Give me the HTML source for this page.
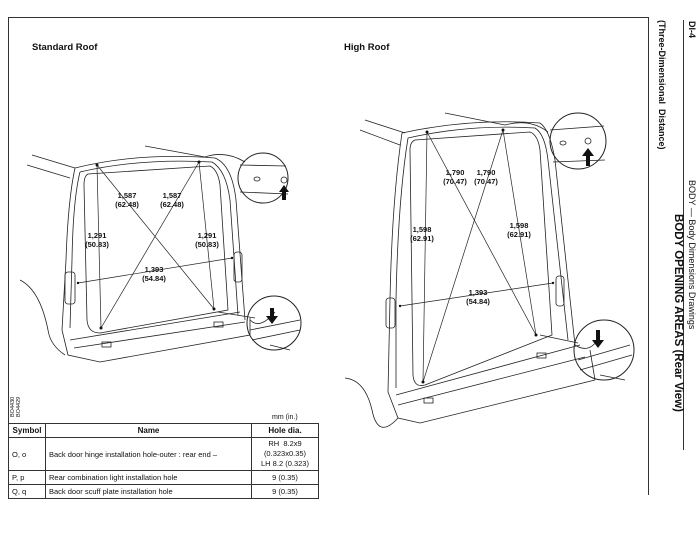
<!DOCTYPE html>
<html><head><meta charset="utf-8"><style>
body{margin:0;width:700px;height:536px;background:#fff;position:relative;overflow:hidden;font-family:"Liberation Sans",Arial,sans-serif;color:#111}
.frame{position:absolute;left:8px;top:17px;width:641px;height:478px;border:1px solid #333;box-sizing:border-box;border-bottom:none}
.rot{position:absolute;transform-origin:0 0;transform:rotate(90deg);white-space:nowrap}
table{position:absolute;left:8px;top:423px;width:311px;border-collapse:collapse;font-size:7.5px}
td,th{border:1px solid #333;padding:1px 3px;height:11px}
th{font-weight:bold;font-size:8px}
</style></head><body>
<div class="frame"></div>
<div style="position:absolute;left:683px;top:20px;width:1px;height:430px;background:#333"></div>
<div style="position:absolute;left:32px;top:42px;font-size:9.5px;font-weight:bold">Standard Roof</div>
<div style="position:absolute;left:344px;top:42px;font-size:9.5px;font-weight:bold">High Roof</div>
<div class="rot" style="left:667px;top:20px;font-size:9px;font-weight:bold">(Three-Dimensional&nbsp; Distance)</div>
<div class="rot" style="left:697px;top:21px;font-size:9px;font-weight:bold">DI-4</div>
<div class="rot" style="left:697px;top:180px;font-size:9px">BODY — Body Dimensions Drawings</div>
<div class="rot" style="left:684px;top:214px;font-size:11.5px;font-weight:bold">BODY OPENING AREAS (Rear View)</div>
<div style="position:absolute;left:5px;top:400px;font-size:5.5px;transform:rotate(-90deg);transform-origin:center;line-height:6px;width:22px">BO4430<br>BO4429</div>
<div style="position:absolute;left:272px;top:414px;font-size:7px">mm (in.)</div>
<table>
<tr><th style="width:30px">Symbol</th><th>Name</th><th style="width:60px">Hole dia.</th></tr>
<tr><td>O, o</td><td>Back door hinge installation hole-outer : rear end –</td><td style="text-align:center;line-height:10px">RH&nbsp; 8.2x9<br>(0.323x0.35)<br>LH 8.2 (0.323)</td></tr>
<tr><td>P, p</td><td>Rear combination light installation hole</td><td style="text-align:center">9 (0.35)</td></tr>
<tr><td>Q, q</td><td>Back door scuff plate installation hole</td><td style="text-align:center">9 (0.35)</td></tr>
</table>
<svg width="700" height="536" style="position:absolute;left:0;top:0" fill="none" stroke="#222" stroke-width="0.8" font-family="Liberation Sans,Arial,sans-serif">
<g>
<path d="M32 155 L75 168 M27 165 L70 178 M145 146 L205 157"/>
<path d="M75 168 Q140 152 215 158 Q232 165 236 200 L245 320"/>
<path d="M80 172 Q140 158 212 162 Q226 170 230 200 L238 315"/>
<path d="M75 168 Q68 200 66 260 L62 330"/>
<path d="M80 172 Q73 200 72 260 L70 328"/>
<path d="M88 174 L210 166 Q218 170 220 185 L228 310 L100 333 Q88 333 87 320 L84 185 Q84 176 88 174Z"/>
<path d="M62 330 L68 355 L100 362 L250 335 L250 318"/>
<path d="M70 340 L240 312 M74 348 L245 322"/>
<path d="M20 280 Q40 290 48 330 Q50 345 65 355"/>
<rect x="65" y="272" width="10" height="32" rx="3"/><rect x="234" y="252" width="8" height="30" rx="3"/>
<rect x="102" y="342" width="9" height="5"/><rect x="214" y="322" width="9" height="5"/>
<path stroke-width="0.7" d="M97 165 L214 309 M199 162 L101 328 M97 165 L101 328 M199 162 L214 309 M78 283 L232 258"/>
<g fill="#111" stroke="none"><circle cx="97" cy="165" r="1.5"/><circle cx="199" cy="162" r="1.5"/><circle cx="101" cy="328" r="1.5"/><circle cx="214" cy="309" r="1.5"/><circle cx="78" cy="283" r="1.2"/><circle cx="232" cy="258" r="1.2"/></g>
<circle cx="263" cy="178" r="25" stroke-width="1"/>
<path d="M205 157 Q225 150 245 162 M240 165 L286 166 M240 192 L288 194"/>
<ellipse cx="257" cy="179" rx="3" ry="2"/><circle cx="284" cy="180" r="3"/>
<path fill="#111" stroke="none" d="M282 200 L282 192 L279 192 L284 185 L289 192 L286 192 L286 200Z"/>
<circle cx="274" cy="323" r="27" stroke-width="1"/>
<path d="M218 312 L255 318 M250 320 Q260 330 275 312 M250 330 L300 320 M252 340 L300 330 M270 345 L290 350"/>
<path fill="#111" stroke="none" d="M270 308 L270 316 L266 316 L272 324 L278 316 L274 316 L274 308Z"/>
<g fill="#111" stroke="none" font-size="7.5" font-weight="bold" text-anchor="middle">
<text x="127" y="198">1,587</text><text x="127" y="207">(62.48)</text>
<text x="172" y="198">1,587</text><text x="172" y="207">(62.48)</text>
<text x="97" y="238">1,291</text><text x="97" y="247">(50.83)</text>
<text x="207" y="238">1,291</text><text x="207" y="247">(50.83)</text>
<text x="154" y="272">1,393</text><text x="154" y="281">(54.84)</text>
</g>
</g>
<g>
<path d="M365 120 L405 133 M360 130 L400 145 M445 113 L505 125"/>
<path d="M402 133 Q470 118 540 123 Q550 130 555 160 L575 345"/>
<path d="M408 138 Q470 124 535 128 Q545 134 548 160 L568 340"/>
<path d="M402 133 Q392 200 390 300 L388 392"/>
<path d="M408 138 Q398 200 396 300 L396 388"/>
<path d="M415 140 L530 132 Q538 135 540 150 L552 335 L425 385 Q414 388 413 375 L410 150 Q410 142 415 140Z"/>
<path d="M388 392 L398 418 L420 423 L595 380 L590 350"/>
<path d="M396 395 L580 345 M398 405 L585 357"/>
<path d="M345 378 Q365 380 372 410 Q378 440 398 418"/>
<rect x="386" y="298" width="9" height="30" rx="3"/><rect x="556" y="276" width="8" height="30" rx="3"/>
<rect x="424" y="398" width="9" height="5"/><rect x="537" y="353" width="9" height="5"/>
<path stroke-width="0.7" d="M427 132 L536 335 M503 130 L423 382 M427 132 L423 382 M503 130 L536 335 M400 306 L553 283"/>
<g fill="#111" stroke="none"><circle cx="427" cy="132" r="1.5"/><circle cx="503" cy="130" r="1.5"/><circle cx="423" cy="382" r="1.5"/><circle cx="536" cy="335" r="1.5"/><circle cx="400" cy="306" r="1.2"/><circle cx="553" cy="283" r="1.2"/></g>
<circle cx="578" cy="141" r="28" stroke-width="1"/>
<path d="M505 125 Q530 118 548 132 M550 130 L604 126 M553 162 L605 160"/>
<ellipse cx="563" cy="143" rx="3" ry="2"/><circle cx="588" cy="141" r="3"/>
<path fill="#111" stroke="none" d="M586 166 L586 156 L582 156 L588 148 L594 156 L590 156 L590 166Z"/>
<circle cx="604" cy="350" r="30" stroke-width="1"/>
<path d="M540 335 L578 343 M575 345 Q590 355 600 336 M578 360 L630 345 M580 370 L632 355 M600 375 L625 380"/>
<path fill="#111" stroke="none" d="M596 330 L596 340 L592 340 L598 348 L604 340 L600 340 L600 330Z"/>
<g fill="#111" stroke="none" font-size="7.5" font-weight="bold" text-anchor="middle">
<text x="455" y="175">1,790</text><text x="455" y="184">(70.47)</text>
<text x="486" y="175">1,790</text><text x="486" y="184">(70.47)</text>
<text x="422" y="232">1,598</text><text x="422" y="241">(62.91)</text>
<text x="519" y="228">1,598</text><text x="519" y="237">(62.91)</text>
<text x="478" y="295">1,393</text><text x="478" y="304">(54.84)</text>
</g>
</g>
</svg>
</body></html>
